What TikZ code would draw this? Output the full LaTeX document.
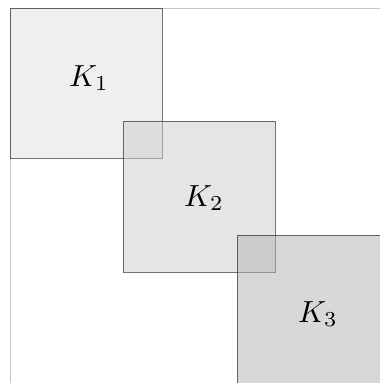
\documentclass[tikz,border=0pt]{standalone}
\usepackage{graphicx}
\definecolor{cA}{gray}{0.88}
\definecolor{cB}{gray}{0.80}
\definecolor{cC}{gray}{0.70}
\definecolor{frame}{gray}{0.78}
\tikzset{
  sq/.style={draw=black, draw opacity=0.55, fill opacity=0.5, line width=0.8pt},
  lab/.style={inner sep=0pt},
  frameline/.style={draw=frame, line width=0.8pt}
}
\newcommand{\biglab}[1]{\scalebox{3.05}{$#1$}}
\begin{document}
\begin{tikzpicture}[x=1pt,y=-1pt]
\useasboundingbox (0,0) rectangle (380,383);
\clip (0,0) rectangle (380,383);
\draw[frameline] (10,8) -- (390,8);
\draw[frameline] (10,8) -- (10,393);
\path[sq,fill=cA] (10,8) rectangle (162,158);
\path[sq,fill=cB] (123,121) rectangle (275,272);
\path[sq,fill=cC] (237,235) rectangle (389,386);
\node[lab] (k1) at (89,78) {\biglab{K_1}};
\node[lab] (k2) at (204,198) {\biglab{K_2}};
\node[lab] (k3) at (318,314) {\biglab{K_3}};
\end{tikzpicture}
\end{document}
